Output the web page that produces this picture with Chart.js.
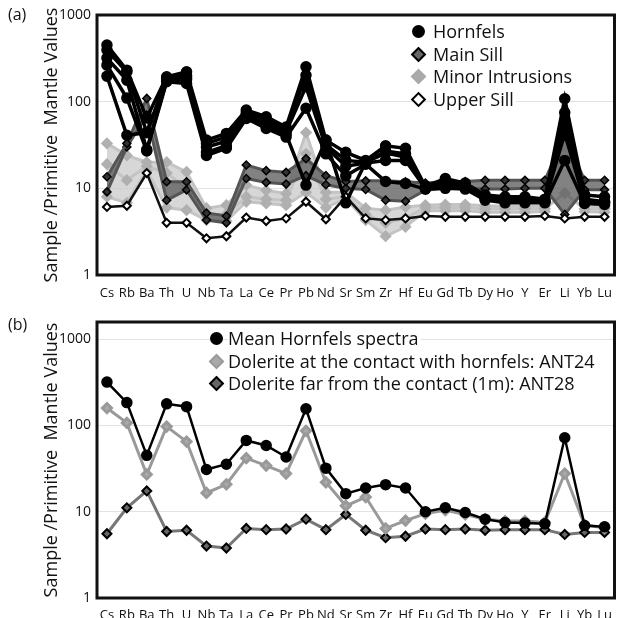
<!DOCTYPE html>
<html>
<head>
<meta charset="utf-8">
<script src="https://cdn.jsdelivr.net/npm/chart.js@4.4.1/dist/chart.umd.min.js"></script>
<style>
  html, body { margin:0; padding:0; background:#fff; }
  body { width:622px; height:618px; position:relative; overflow:hidden; font-family:"Open Sans", sans-serif; color:#111; }
  .cv { position:absolute; left:0; }
  .lab { position:absolute; font-size:16px; color:#111; }
  .leg { position:absolute; font-size:18px; line-height:22.5px; color:#111; }
  .row { position:relative; height:22.5px; white-space:nowrap; }
  .row span.t { position:absolute; background:#fff; padding-right:2px; }
  .mk { position:absolute; box-sizing:border-box; }
  .circ { width:13px; height:13px; border-radius:50%; background:#000; }
  .dia { width:11px; height:11px; transform:rotate(45deg); }
</style>
</head>
<body>
<div class="cv" style="top:0;width:622px;height:300px;"><canvas id="ca"></canvas></div>
<div class="cv" style="top:300px;width:622px;height:318px;"><canvas id="cb"></canvas></div>

<div class="lab" style="left:8px;top:3px;">(a)</div>
<div class="lab" style="left:8px;top:313px;">(b)</div>

<div class="leg" style="left:405px;top:20px;">
  <div class="row"><span class="mk circ" style="left:7px;top:5px;"></span><span class="t" style="left:28px;top:0;">Hornfels</span></div>
  <div class="row"><span class="mk dia" style="left:8px;top:6px;background:#666;border:2.5px solid #000;"></span><span class="t" style="left:28px;top:0;">Main Sill</span></div>
  <div class="row"><span class="mk dia" style="left:8px;top:6px;background:#aaa;border:2px solid #aaa;"></span><span class="t" style="left:28px;top:0;">Minor Intrusions</span></div>
  <div class="row"><span class="mk dia" style="left:8px;top:6px;background:#fff;border:2.5px solid #000;"></span><span class="t" style="left:28px;top:0;">Upper Sill</span></div>
</div>

<div class="leg" style="left:205px;top:327px;">
  <div class="row"><span class="mk circ" style="left:5px;top:5px;"></span><span class="t" style="left:23px;top:0;">Mean Hornfels spectra</span></div>
  <div class="row"><span class="mk dia" style="left:6px;top:6px;background:#aaa;border:2px solid #999;"></span><span class="t" style="left:23px;top:0;">Dolerite at the contact with hornfels: ANT24</span></div>
  <div class="row"><span class="mk dia" style="left:6px;top:6px;background:#666;border:2.5px solid #000;"></span><span class="t" style="left:23px;top:0;">Dolerite far from the contact (1m): ANT28</span></div>
</div>

<script>
// ---------- categories & ticks ----------
const elements = ['Cs','Rb','Ba','Th','U','Nb','Ta','La','Ce','Pr','Pb','Nd','Sr','Sm','Zr','Hf','Eu','Gd','Tb','Dy','Ho','Y','Er','Li','Yb','Lu'];
const yTickValues = [1, 10, 100, 1000];

// ---------- panel (a) ----------
const hornfels1 = [450,231,65,194,221,36,43,80,67,51,253,36,26,21,31,29,10.5,13,11.5,8.4,8,8,7.5,108,8.4,8];
const hornfels2 = [394,220,44,185,200,33,39,74,62,47,202,32,21,20,25.5,23,10,12,10.5,8,7.5,7.5,7.2,60,7.5,7];
const hornfels3 = [318,177,28,175,180,30,35,70,56,45,149,30,18,19.6,21,21,10,11,10,7.6,7.2,7.2,7,43,7,7];
const hornfels4 = [264,110,27,170,162,24,29,64,49,39,84,25,14,19,12,11.4,9.8,10,9.8,7.3,6.8,6.8,6.8,21,6.7,6.5];
const hornfels5 = [197,41,44,180,190,26,31,66,52,42,10.9,36,6.8,20,27,25,10,11.5,10.5,7.8,7.4,7.4,7.2,75,6.9,6.8];
const mainSillHigh = [13.6,33,109,11.9,11.9,5.2,4.8,18.6,16,15.3,22,14,12,12.2,12.2,11.9,11.5,12,12,12.4,12.4,12.4,12.4,40,12.4,12.4];
const mainSillLow  = [9.1,30,70,7.3,9.6,4.3,4.0,13,11.7,11.2,14,11,10,9.7,7.3,7.1,9.5,10,10,9.8,9.8,10,10,5,9.6,9.6];
const minorHigh = [33,24,20,20,15.5,5.9,6.4,10.9,9.5,8.7,44,9,9,5.9,5.6,6.1,6.4,6.5,6.5,6.3,6.2,6.2,6.2,56,6.3,6.2];
const minorMid  = [19,12.4,18,15,10,5,5,8,7.5,7.3,25,7.5,8,5,4,4.5,6,6,6,5.8,5.8,5.8,5.8,8.8,5.8,5.8];
const minorLow  = [8,6.8,16,6,5.6,4.3,4.2,7,6.7,6.4,9,6,7.6,4.3,2.8,3.6,5.5,5.5,5.5,5.3,5.3,5.3,5.4,30,5.4,5.3];
const upperSill = [6.1,6.3,15,4.0,4.0,2.65,2.8,4.6,4.2,4.5,7,4.4,8,4.5,4.3,4.5,4.8,4.7,4.7,4.7,4.7,4.7,4.8,4.5,4.7,4.7];

// ---------- panel (b) ----------
const meanHornfels = [318,184,45,178,165,30.8,35.5,67,58.5,43,156,32,16.2,18.8,20.6,18.8,10,11.1,9.8,8.2,7.5,7.4,7.25,72,6.9,6.7];
const ant24 = [159,107,27,97,65,16.5,20.8,41.7,34.3,27.7,86.7,21.9,11.7,14.8,6.4,7.9,9.5,10.4,9.3,8.2,7.8,7.8,7.5,27.7,7.0,6.5];
const ant28 = [5.55,11.1,17.4,5.9,6.1,4.0,3.8,6.4,6.2,6.3,8.2,6.2,9.3,6.1,5.0,5.2,6.3,6.2,6.3,6.1,6.2,6.2,6.2,5.45,5.75,5.75];

const FONT = '"Open Sans", sans-serif';

const borderPlugin = {
  id: 'frame',
  afterDraw(chart) {
    const a = chart.chartArea, c = chart.ctx;
    c.save();
    c.strokeStyle = '#111';
    c.lineWidth = 3;
    c.strokeRect(a.left, a.top, a.right - a.left, a.bottom - a.top);
    c.restore();
  }
};

function scales(yMax, xHeight, xPad) {
  return {
    x: {
      type: 'category',
      offset: true,
      grid: { display: false },
      border: { display: false },
      ticks: { autoSkip: false, maxRotation: 0, minRotation: 0, padding: xPad, color: '#111', font: { family: FONT, size: 13, lineHeight: 1 } },
      afterFit(s) { s.height = xHeight; }
    },
    y: {
      type: 'logarithmic',
      min: 1,
      max: yMax,
      afterBuildTicks(s) { s.ticks = yTickValues.map(v => ({ value: v })); },
      grid: { color: '#e2e2e2', lineWidth: 1, drawTicks: false },
      border: { display: false },
      ticks: { padding: 6, color: '#111', font: { family: FONT, size: 14 }, callback: v => String(v) },
      title: { display: true, text: 'Sample /Primitive  Mantle Values', color: '#111', font: { family: FONT, size: 18 }, padding: { top: 41, bottom: 0 } },
      afterFit(s) { s.width = 97; }
    }
  };
}

function hornfelsDs(data) {
  return { data, borderColor: '#000', backgroundColor: '#000', borderWidth: 3.5, pointStyle: 'circle', pointRadius: 4, pointBackgroundColor: '#000', pointBorderColor: '#000', fill: false, tension: 0 };
}

new Chart(document.getElementById('ca'), {
  type: 'line',
  data: {
    labels: elements,
    datasets: [
      hornfelsDs(hornfels1),
      hornfelsDs(hornfels2),
      hornfelsDs(hornfels3),
      hornfelsDs(hornfels4),
      hornfelsDs(hornfels5),
      { data: upperSill, borderColor: '#111', borderWidth: 2.5, pointStyle: 'rectRot', pointRadius: 4, pointBackgroundColor: '#fff', pointBorderColor: '#000', pointBorderWidth: 2, fill: false },
      { data: mainSillHigh, borderColor: '#555', borderWidth: 3, pointStyle: 'rectRot', pointRadius: 4, pointBackgroundColor: '#333', pointBorderColor: '#000', pointBorderWidth: 1.5, fill: false },
      { data: mainSillLow, borderColor: '#555', borderWidth: 3, pointStyle: 'rectRot', pointRadius: 4, pointBackgroundColor: '#333', pointBorderColor: '#000', pointBorderWidth: 1.5, fill: 6, backgroundColor: 'rgba(95,95,95,0.78)' },
      { data: minorHigh, borderColor: '#c4c4c4', borderWidth: 3, pointStyle: 'rectRot', pointRadius: 4, pointBackgroundColor: '#b0b0b0', pointBorderColor: '#b0b0b0', fill: false },
      { data: minorMid, borderColor: '#c4c4c4', borderWidth: 3, pointStyle: 'rectRot', pointRadius: 4, pointBackgroundColor: '#b0b0b0', pointBorderColor: '#b0b0b0', fill: false },
      { data: minorLow, borderColor: '#c4c4c4', borderWidth: 3, pointStyle: 'rectRot', pointRadius: 4, pointBackgroundColor: '#b0b0b0', pointBorderColor: '#b0b0b0', fill: 8, backgroundColor: 'rgba(205,205,205,0.8)' }
    ]
  },
  options: {
    responsive: true,
    maintainAspectRatio: false,
    animation: false,
    layout: { padding: { left: 0, right: 6, top: 15, bottom: 0 } },
    plugins: { legend: { display: false }, tooltip: { enabled: false } },
    scales: scales(1000, 25, 4)
  },
  plugins: [borderPlugin]
});

new Chart(document.getElementById('cb'), {
  type: 'line',
  data: {
    labels: elements,
    datasets: [
      { data: meanHornfels, borderColor: '#000', borderWidth: 2.5, pointStyle: 'circle', pointRadius: 4.5, pointBackgroundColor: '#000', pointBorderColor: '#000', fill: false },
      { data: ant24, borderColor: '#999', borderWidth: 3, pointStyle: 'rectRot', pointRadius: 4.5, pointBackgroundColor: '#aaa', pointBorderColor: '#999', fill: false },
      { data: ant28, borderColor: '#777', borderWidth: 3, pointStyle: 'rectRot', pointRadius: 4.5, pointBackgroundColor: '#666', pointBorderColor: '#000', pointBorderWidth: 2, fill: false }
    ]
  },
  options: {
    responsive: true,
    maintainAspectRatio: false,
    animation: false,
    layout: { padding: { left: 0, right: 6, top: 22, bottom: 0 } },
    plugins: { legend: { display: false }, tooltip: { enabled: false } },
    scales: scales(1580, 20, 3)
  },
  plugins: [borderPlugin]
});
</script>
</body>
</html>
